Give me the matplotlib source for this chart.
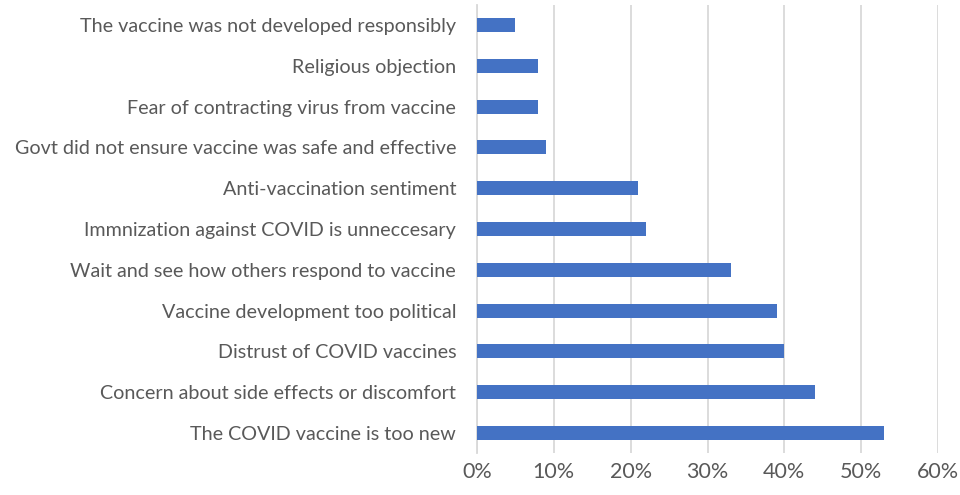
import matplotlib
matplotlib.use("Agg")
import matplotlib.pyplot as plt
from matplotlib.ticker import FuncFormatter, MultipleLocator

categories = [
    "The COVID vaccine is too new",
    "Concern about side effects or discomfort",
    "Distrust of COVID vaccines",
    "Vaccine development too political",
    "Wait and see how others respond to vaccine",
    "Immnization against COVID is unneccesary",
    "Anti-vaccination sentiment",
    "Govt did not ensure vaccine was safe and effective",
    "Fear of contracting virus from vaccine",
    "Religious objection",
    "The vaccine was not developed responsibly",
]
values = [53, 44, 40, 39, 33, 22, 21, 9, 8, 8, 5]

plt.rcParams["font.family"] = ["Lato", "DejaVu Sans"]
text_color = "#595959"
grid_color = "#d9d9d9"
bar_color = "#4472c4"

fig = plt.figure(figsize=(9.6, 4.95), dpi=100)
ax = fig.add_axes([0.4969, 0.084, 0.4802, 0.9067])

y = list(range(len(categories)))
ax.barh(y, values, height=0.34, color=bar_color, zorder=3)

ax.set_xlim(0, 60)
ax.set_ylim(-0.5, len(categories) - 0.5)
ax.set_yticks(y)
ax.set_yticklabels(categories)
ax.xaxis.set_major_locator(MultipleLocator(10))
ax.xaxis.set_major_formatter(FuncFormatter(lambda v, p: f"{v:.0f}%"))

ax.grid(axis="x", color=grid_color, linewidth=1.3, zorder=0)
for side in ["top", "right", "bottom"]:
    ax.spines[side].set_visible(False)
ax.spines["left"].set_color(grid_color)
ax.spines["left"].set_linewidth(1.3)

ax.tick_params(axis="y", length=0, pad=15, labelsize=14.2, labelcolor=text_color)
ax.tick_params(axis="x", length=0, pad=6, labelsize=15.5, labelcolor=text_color)

fig.savefig("out.png", dpi=100, facecolor="white")
